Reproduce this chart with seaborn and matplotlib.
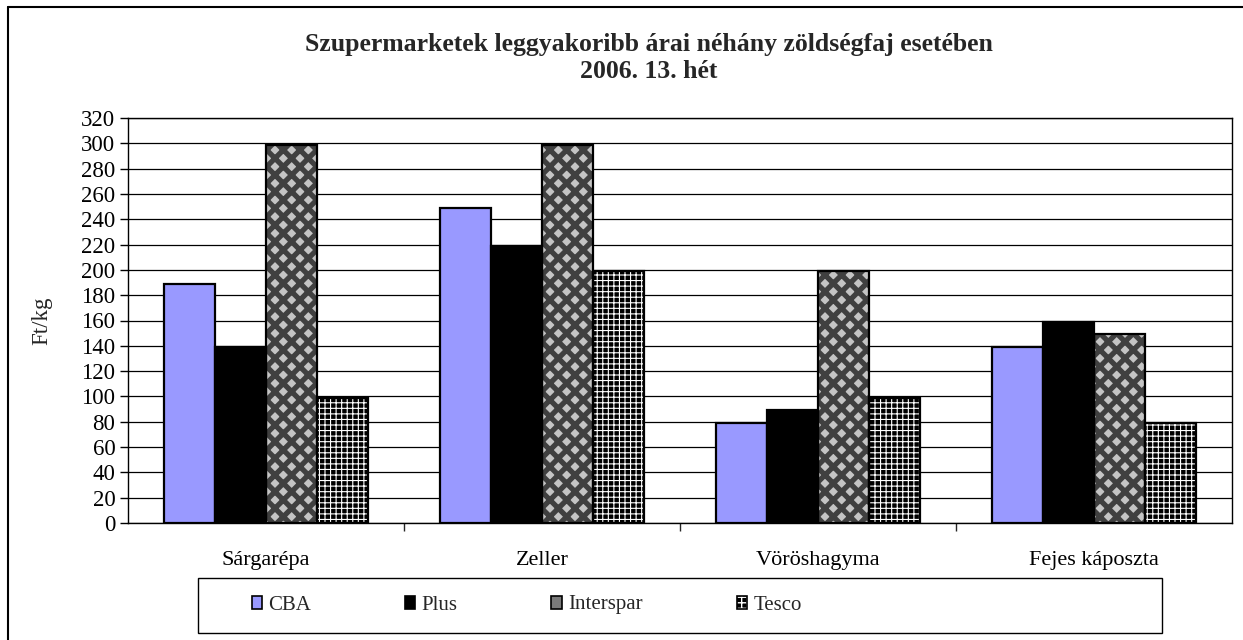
import numpy as np
import pandas as pd
import matplotlib
matplotlib.use('Agg')
import matplotlib.pyplot as plt
import matplotlib.colors as mcolors
from matplotlib.patches import Patch, Rectangle
from matplotlib.lines import Line2D
import seaborn as sns

categories = ['Sárgarépa', 'Zeller', 'Vöröshagyma', 'Fejes káposzta']
stores = ['CBA', 'Plus', 'Interspar', 'Tesco']
cba = [189, 249, 79, 139]
plus = [139, 219, 89, 159]
interspar = [299, 299, 199, 149]
tesco = [99, 199, 99, 79]
yticks = list(range(0, 321, 20))

sns.set_style('white')
plt.rcParams['font.family'] = ['Liberation Serif', 'DejaVu Serif']

df = pd.DataFrame({
    'cat': categories * 4,
    'store': [s for s in stores for _ in categories],
    'price': cba + plus + interspar + tesco,
})

# face colour, hatch colour, hatch, hatch linewidth
styles = {
    'CBA': ('#9999ff', None, None, 0),
    'Plus': ('#000000', None, None, 0),
    'Interspar': ('#c4c4c4', '#404040', 'xx', 3.8),
    'Tesco': ('#000000', '#ffffff', '+++', 0.8),
}

fig = plt.figure(figsize=(12.43, 6.4), dpi=100)
ax = fig.add_axes([128 / 1243, 1 - 523 / 640, (1232 - 128) / 1243, (523 - 118) / 640])

sns.barplot(data=df, x='cat', y='price', hue='store', order=categories,
            hue_order=stores, palette=[styles[s][0] for s in stores],
            width=0.74, gap=0, ax=ax, legend=False, saturation=1, errorbar=None)

for store, cont in zip(stores, ax.containers):
    face, hcol, hatch, hlw = styles[store]
    for bar in cont:
        if hatch:
            bar.set_hatch(hatch)
            bar.set_edgecolor(hcol)
            if hasattr(bar, 'set_hatch_linewidth'):
                bar.set_hatch_linewidth(hlw)
        bar.set_linewidth(0)
        ax.add_patch(Rectangle(bar.get_xy(), bar.get_width(), bar.get_height(),
                               fill=False, edgecolor='black', lw=1.6, zorder=3))

ax.set_ylim(0, 320)
ax.set_xlim(-0.5, 3.5)
ax.set_yticks(yticks)
ax.set_yticklabels([str(t) for t in yticks])
ax.yaxis.grid(True, color='black', lw=0.9)
ax.set_axisbelow(True)
for sp in ax.spines.values():
    sp.set_visible(True)
    sp.set_color('black')
    sp.set_linewidth(1.0)
ax.tick_params(axis='y', left=True, direction='out', length=6, width=1,
               labelsize=16.5, pad=3, colors='black')
ax.set_xticks(range(4))
ax.set_xticklabels(categories)
ax.set_xticks([0.5, 1.5, 2.5], minor=True)
ax.tick_params(axis='x', which='major', length=0, pad=20, labelsize=16, colors='black')
ax.tick_params(axis='x', which='minor', bottom=True, direction='out', length=6, width=1)
ax.set_xlabel('')
ax.set_ylabel('Ft/kg', fontsize=16.5, labelpad=21)

fig.text(0.522, 1 - 44 / 640, 'Szupermarketek leggyakoribb árai néhány zöldségfaj esetében',
         ha='center', va='center', fontsize=18.5, fontweight='bold')
fig.text(0.522, 1 - 71 / 640, '2006. 13. hét', ha='center', va='center',
         fontsize=18.5, fontweight='bold')

# legend box and entries
fig.add_artist(Rectangle((198 / 1243, 1 - 633 / 640), (1162 - 198) / 1243, 55 / 640,
                         transform=fig.transFigure, fill=False, edgecolor='black', lw=1))

handles = []
for s in stores:
    face, hcol, hatch, hlw = styles[s]
    if s == 'Interspar':
        p = Patch(facecolor='#7a7a7a', edgecolor='black', lw=1.2)
    elif hatch:
        p = Patch(facecolor=face, edgecolor='black', hatch='+++', lw=1.2)
        p._hatch_color = mcolors.to_rgba(hcol)
    else:
        p = Patch(facecolor=face, edgecolor='black', lw=1.2)
    handles.append(p)
fig.legend(handles, stores, loc='center left', bbox_to_anchor=(233 / 1243, 1 - 605 / 640),
           ncol=4, frameon=False, fontsize=15, handlelength=0.5, handleheight=0.6,
           handletextpad=0.3, columnspacing=4.5)

# outer frame (left and top edges visible)
fig.add_artist(Line2D([8 / 1243, 8 / 1243], [0, 1 - 7 / 640], transform=fig.transFigure,
                      color='black', lw=1.5))
fig.add_artist(Line2D([8 / 1243, 1], [1 - 7 / 640, 1 - 7 / 640], transform=fig.transFigure,
                      color='black', lw=1.5))

fig.savefig('out.png', dpi=100)
